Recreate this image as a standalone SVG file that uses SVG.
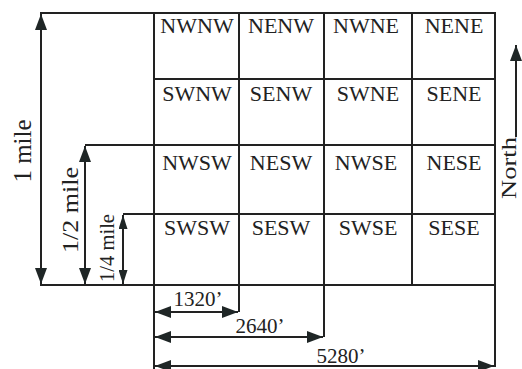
<svg xmlns="http://www.w3.org/2000/svg" width="522" height="369" viewBox="0 0 522 369" font-family="'Liberation Serif','Times New Roman',serif">
<defs>
<marker id="ah" viewBox="0 0 16 12" refX="16" refY="6" markerWidth="16" markerHeight="12" markerUnits="userSpaceOnUse" orient="auto-start-reverse">
<path d="M0,0 L16,6 L0,12 z" fill="#1f2626"/>
</marker>
<marker id="ahs" viewBox="0 0 14 9" refX="14" refY="4.5" markerWidth="14" markerHeight="9" markerUnits="userSpaceOnUse" orient="auto-start-reverse">
<path d="M0,0 L14,4.5 L0,9 z" fill="#1f2626"/>
</marker>
</defs>
<style>
.c rect{fill:#fff;stroke:#222;stroke-width:2}
.c text{font-family:"Liberation Serif","Times New Roman",serif;font-size:22px;fill:#222;text-anchor:middle}
.ln{fill:none;stroke:#222;stroke-width:2}
.dim{fill:none;stroke:#222;stroke-width:2;marker-start:url(#ah);marker-end:url(#ah)}
.dims{fill:none;stroke:#222;stroke-width:2;marker-start:url(#ahs);marker-end:url(#ahs)}
.lbl{font-family:"Liberation Serif","Times New Roman",serif;fill:#222;text-anchor:middle}
</style>
<rect width="522" height="369" fill="#fff"/>
<g id="cells" class="c">
<g id="NWNW"><rect x="154" y="13" width="85" height="66"/><text x="197" y="33">NWNW</text></g>
<g id="NENW"><rect x="239" y="13" width="85" height="66"/><text x="281" y="33">NENW</text></g>
<g id="NWNE"><rect x="324" y="13" width="88" height="66"/><text x="366" y="33">NWNE</text></g>
<g id="NENE"><rect x="412" y="13" width="83" height="66"/><text x="454" y="33">NENE</text></g>
<g id="SWNW"><rect x="154" y="79" width="85" height="66"/><text x="197" y="101">SWNW</text></g>
<g id="SENW"><rect x="239" y="79" width="85" height="66"/><text x="281" y="101">SENW</text></g>
<g id="SWNE"><rect x="324" y="79" width="88" height="66"/><text x="368" y="101">SWNE</text></g>
<g id="SENE"><rect x="412" y="79" width="83" height="66"/><text x="454" y="101">SENE</text></g>
<g id="NWSW"><rect x="154" y="145" width="85" height="69"/><text x="197" y="170">NWSW</text></g>
<g id="NESW"><rect x="239" y="145" width="85" height="69"/><text x="281" y="170">NESW</text></g>
<g id="NWSE"><rect x="324" y="145" width="88" height="69"/><text x="366" y="170">NWSE</text></g>
<g id="NESE"><rect x="412" y="145" width="83" height="69"/><text x="454" y="170">NESE</text></g>
<g id="SWSW"><rect x="154" y="214" width="85" height="71"/><text x="197" y="235">SWSW</text></g>
<g id="SESW"><rect x="239" y="214" width="85" height="71"/><text x="281" y="235">SESW</text></g>
<g id="SWSE"><rect x="324" y="214" width="88" height="71"/><text x="368" y="235">SWSE</text></g>
<g id="SESE"><rect x="412" y="214" width="83" height="71"/><text x="454" y="235">SESE</text></g>
</g>
<g id="connectors">
<path class="ln" d="M40,13 H154 M40,285 H154 M85,145 H154 M123,214 H154 M154,285 V369 M239,285 V312 M324,285 V337 M495,285 V367"/>
<path class="dim" d="M41,14 V284"/>
<path class="dim" d="M85,146 V284"/>
<path class="dims" d="M123,215 V284"/>
<path class="dim" d="M155,312 H238"/>
<path class="dim" d="M155,337 H323"/>
<path class="dim" d="M155,366 H494"/>
<path class="ln" d="M516,137 V45" marker-end="url(#ah)"/>
</g>
<g id="labels">
<text class="lbl" font-size="26" transform="translate(31,151) rotate(-90)" textLength="63" lengthAdjust="spacingAndGlyphs">1 mile</text>
<text class="lbl" font-size="24" transform="translate(78,210) rotate(-90)" textLength="86" lengthAdjust="spacingAndGlyphs">1/2 mile</text>
<text class="lbl" font-size="21" transform="translate(114,248) rotate(-90)" textLength="68" lengthAdjust="spacingAndGlyphs">1/4 mile</text>
<text class="lbl" font-size="21" transform="translate(516,168) rotate(-90)" textLength="62" lengthAdjust="spacingAndGlyphs">North</text>
<text class="lbl" font-size="21" x="198" y="306">1320’</text>
<text class="lbl" font-size="21" x="260" y="333">2640’</text>
<text class="lbl" font-size="21" x="341" y="363">5280’</text>
</g>
</svg>
